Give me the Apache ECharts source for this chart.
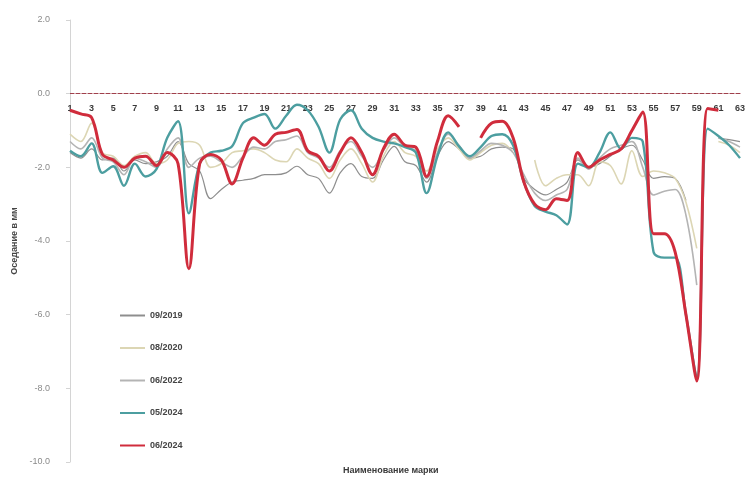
<!DOCTYPE html>
<html>
<head>
<meta charset="utf-8">
<script src="https://cdn.jsdelivr.net/npm/echarts@6/dist/echarts.min.js"></script>
<style>
  html, body { margin: 0; padding: 0; background: #ffffff; }
  #chart { width: 748px; height: 477px; }
</style>
</head>
<body>
<div id="chart"></div>
<script>
// Survey marks 1..63
const marks = Array.from({ length: 63 }, (_, i) => String(i + 1));

// Settlement of each mark, mm, per survey date
const s2019 = [-1.6, -1.75, -1.5, -1.8, -1.75, -2.1, -1.8, -1.9, -1.85, -1.7,
  -1.3, -1.9, -2.1, -2.85, -2.6, -2.4, -2.35, -2.3, -2.2, -2.2,
  -2.15, -1.97, -2.2, -2.3, -2.7, -2.15, -1.9, -2.25, -2.3, -1.8,
  -1.43, -1.85, -1.95, -2.4, -1.7, -1.3, -1.5, -1.75, -1.7, -1.5,
  -1.45, -1.5, -2.3, -2.6, -2.75, -2.6, -2.4, -1.8, -2.0, -1.9,
  -1.7, -1.5, -1.4, -1.8, -2.3, -2.25, -2.3, -2.9, null, null,
  -1.2, -1.25, -1.3];

const s2020 = [-1.1, -1.3, -0.8, -1.6, -1.7, -1.95, -1.7, -1.6, -1.9, -1.8,
  -1.35, -1.3, -1.4, -2.0, -1.9, -1.6, -1.55, -1.5, -1.6, -1.8,
  -1.85, -1.5, -1.75, -1.9, -2.3, -1.8, -1.5, -1.9, -2.4, -1.7,
  -1.3, -1.6, -1.7, -2.1, -1.5, -1.2, -1.5, -1.8, -1.6, -1.4,
  -1.35, -1.6, null, -1.8, -2.5, -2.3, -2.2, -2.2, -2.5, -1.85,
  -1.95, -2.45, -1.55, -2.25, -2.1, -2.15, -2.3, -2.95, -4.2, null,
  -1.3, -1.4, -1.6];

const s2022 = [-1.3, -1.5, -1.2, -1.75, -1.85, -2.2, -1.75, -1.85, -2.0, -1.5,
  -1.2, -2.0, -1.75, -1.7, -1.85, -2.0, -1.7, -1.45, -1.5, -1.3,
  -1.25, -1.15, -1.6, -1.75, -2.0, -1.55, -1.3, -1.7, -2.0, -1.55,
  -1.2, -1.45, -1.55, -2.3, -1.6, -1.1, -1.4, -1.75, -1.55, -1.35,
  -1.4, -1.6, -2.2, -2.7, -2.9, -2.75, -2.6, -1.75, -2.05, -1.75,
  -1.5, -1.4, -1.3, -2.0, -2.75, -2.65, -2.6, -3.3, -5.2, null,
  -1.2, -1.3, -1.45];

const s2024may = [-1.55, -1.7, -1.35, -2.15, -1.97, -2.5, -1.9, -2.25, -2.05, -1.2,
  -0.75, -3.25, -1.9, -1.6, -1.55, -1.43, -0.8, -0.65, -0.55, -0.95,
  -0.6, -0.3, -0.45, -0.9, -1.6, -0.7, -0.45, -0.95, -1.2, -1.3,
  -1.35, -1.45, -1.6, -2.7, -1.7, -1.05, -1.43, -1.7, -1.45, -1.15,
  -1.1, -1.4, -2.4, -3.05, -3.2, -3.3, -3.55, -1.9, -2.0, -1.6,
  -1.05, -1.5, -1.2, -1.3, -4.3, -4.45, -4.45, -6.0, -7.7, -0.95,
  -1.15, -1.4, -1.75];

const s2024jun = [-0.45, -0.55, -0.65, -1.65, -1.8, -2.0, -1.75, -1.7, -1.95, -1.6,
  -1.9, -4.75, -1.9, -1.65, -1.8, -2.45, -1.75, -1.2, -1.4, -1.1,
  -1.05, -0.97, -1.55, -1.7, -2.1, -1.6, -1.2, -1.6, -2.2, -1.5,
  -1.1, -1.4, -1.45, -2.25, -1.3, -0.6, -0.9, null, -1.2, -0.8,
  -0.75, -1.2, -2.4, -3.0, -3.15, -2.85, -2.9, -1.6, -2.0, -1.8,
  -1.65, -1.5, -1.0, -0.5, -3.8, -3.8, -4.3, -6.0, -7.8, -0.4,
  -0.45, null, null];

const seriesNames = ['09/2019', '08/2020', '06/2022', '05/2024', '06/2024'];
const yTicks = [2, 0, -2, -4, -6, -8, -10];

const GRID_TOP = 20;
const GRID_BOTTOM = 15;
const PLOT_H = 477 - GRID_TOP - GRID_BOTTOM;
// the category axis sits on the zero line (2 units below the top of a 12-unit range)
const zeroOffset = -PLOT_H * (10 / 12);

const chart = echarts.init(document.getElementById('chart'), null, { renderer: 'canvas' });

function line(name, data, color, width, z) {
  return {
    name: name,
    type: 'line',
    data: data,
    smooth: 0.35,
    symbol: 'none',
    connectNulls: false,
    z: z,
    lineStyle: { color: color, width: width },
    itemStyle: { color: color }
  };
}

chart.setOption({
  animation: false,
  backgroundColor: '#ffffff',
  grid: { left: 70, right: 2, top: GRID_TOP, bottom: GRID_BOTTOM, containLabel: false },
  legend: {
    orient: 'vertical',
    left: 120,
    top: 311,
    padding: 0,
    itemWidth: 25,
    itemHeight: 10,
    itemGap: 23.5,
    icon: 'path://M0,4 L25,4 L25,6 L0,6 Z',
    data: seriesNames,
    textStyle: { fontFamily: 'Liberation Sans', fontSize: 9, fontWeight: 'bold', color: '#444' }
  },
  xAxis: {
    type: 'category',
    data: marks,
    boundaryGap: false,
    position: 'bottom',
    offset: zeroOffset,
    axisLine: {
      onZero: false,
      lineStyle: { color: '#a0404c', width: 1.2, type: [4, 2] }
    },
    axisTick: { show: false },
    axisLabel: {
      interval: 1,
      margin: 10,
      fontFamily: 'Liberation Sans',
      fontSize: 9,
      fontWeight: 'bold',
      color: '#3a3a3a'
    },
    splitLine: { show: false }
  },
  yAxis: {
    type: 'value',
    min: -10,
    max: 2,
    interval: 2,
    name: 'Оседание в мм',
    nameLocation: 'middle',
    nameGap: 48,
    nameRotate: 90,
    nameTextStyle: { fontFamily: 'Liberation Sans', fontSize: 9, fontWeight: 'bold', color: '#444' },
    axisLine: { show: true, lineStyle: { color: '#d4d4d4' } },
    axisTick: { show: true, inside: false, length: 4, lineStyle: { color: '#d4d4d4' } },
    axisLabel: {
      margin: 20,
      fontFamily: 'Liberation Sans',
      fontSize: 9,
      color: '#8a8a8a',
      formatter: v => (yTicks.includes(v) ? v.toFixed(1) : '')
    },
    splitLine: { show: false }
  },
  graphic: [{
    type: 'text',
    left: 343,
    top: 466,
    style: {
      text: 'Наименование марки',
      font: 'bold 9px "Liberation Sans"',
      fill: '#3a3a3a'
    }
  }],
  series: [
    line('09/2019', s2019, '#8e8e8e', 1.2, 2),
    line('08/2020', s2020, '#dcd6b4', 1.6, 3),
    line('06/2022', s2022, '#b4b4b4', 1.6, 4),
    line('05/2024', s2024may, '#4c9ea0', 2.4, 5),
    line('06/2024', s2024jun, '#d02c3c', 3, 6)
  ]
});
</script>
</body>
</html>
